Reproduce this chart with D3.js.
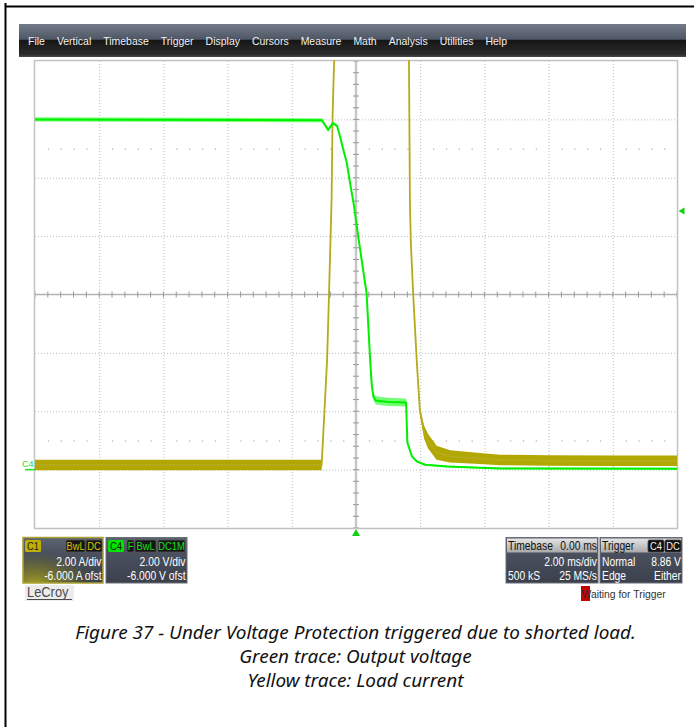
<!DOCTYPE html>
<html>
<head>
<meta charset="utf-8">
<script src="https://cdn.jsdelivr.net/npm/d3@7"></script>
<style>
  body { margin: 0; background: #fff; }
  svg { display: block; font-family: "Liberation Sans", Arial, sans-serif; }
</style>
</head>
<body>
<svg id="scope" width="694" height="727"></svg>
<script>
// Horizontal: 2.00 ms/div, trigger at 0 ms. Vertical: both channels 2 units/div, -6 ofst.
const timeGrid = [-10, -8, -6, -4, -2, 0, 2, 4, 6, 8, 10];
const levelGrid = [-2, 0, 2, 4, 6, 8, 10, 12, 14];

// C4 output voltage (V)
const voltTime  = [-10, -1.06, -0.87, -0.72, -0.59, -0.50, -0.40, -0.29, -0.19, -0.06, 0.06, 0.33, 0.44, 0.49, 0.54, 0.62, 1.00, 1.56, 1.60, 1.74, 1.89, 2.15, 2.83, 3.86, 4.50, 10];
const voltValue = [12.0, 11.97, 11.64, 11.87, 11.78, 11.43, 10.98, 10.53, 9.85, 9.03, 8.06, 6.04, 3.77, 2.92, 2.50, 2.37, 2.32, 2.30, 0.93, 0.46, 0.28, 0.17, 0.11, 0.06, 0.04, 0.03];
const voltNoise = [0.07, 0.07, 0.05, 0.05, 0.05, 0.04, 0.04, 0.04, 0.04, 0.04, 0.04, 0.04, 0.04, 0.06, 0.12, 0.14, 0.14, 0.14, 0.04, 0.03, 0.03, 0.03, 0.03, 0.03, 0.03, 0.03];

// C1 load current (A)
const currTime  = [-10, -1.07, -0.90, -0.84, -0.76, -0.73, -0.69, -0.60, 1.60, 1.65, 1.68, 1.71, 1.78, 1.89, 1.99, 2.12, 2.24, 2.51, 2.93, 3.86, 4.49, 6.0, 8.0, 10];
const currValue = [0.16, 0.16, 3.77, 6.04, 9.26, 12.1, 13.7, 16.0, 16.0, 14.0, 9.16, 7.72, 6.04, 3.77, 2.02, 1.29, 0.98, 0.58, 0.45, 0.38, 0.33, 0.31, 0.30, 0.30];
const currNoise = [0.18, 0.18, 0.05, 0.04, 0.04, 0.04, 0.04, 0.04, 0.04, 0.04, 0.04, 0.04, 0.05, 0.07, 0.12, 0.22, 0.25, 0.24, 0.21, 0.19, 0.18, 0.18, 0.18, 0.18];

const triggerLevel = 8.86;
const menuItems = ["File", "Vertical", "Timebase", "Trigger", "Display", "Cursors", "Measure", "Math", "Analysis", "Utilities", "Help"];
const captionLines = [
  "Figure 37 - Under Voltage Protection triggered due to shorted load.",
  "Green trace: Output voltage",
  "Yellow trace: Load current"
];

const svg = d3.select("#scope");
const defs = svg.append("defs");

// page border
svg.append("line").attr("x1", 5).attr("x2", 694).attr("y1", 6.5).attr("y2", 6.5)
  .attr("stroke", "#000").attr("stroke-width", 2);
svg.append("line").attr("x1", 5.5).attr("x2", 5.5).attr("y1", 3).attr("y2", 727)
  .attr("stroke", "#000").attr("stroke-width", 2);

// menu bar
const mg = defs.append("linearGradient").attr("id", "menuGrad").attr("x1", 0).attr("x2", 0).attr("y1", 0).attr("y2", 1);
[["0%", "#737a88"], ["46%", "#4f5665"], ["50%", "#161616"], ["92%", "#2c2c2c"], ["100%", "#4a4a4a"]]
  .forEach(([o, c]) => mg.append("stop").attr("offset", o).attr("stop-color", c));
svg.append("rect").attr("x", 19).attr("y", 24).attr("width", 667).attr("height", 33).attr("fill", "url(#menuGrad)");

let mx = 28;
menuItems.forEach(label => {
  const t = svg.append("text").attr("x", 0).attr("y", 0)
    .attr("transform", `translate(${mx},45) scale(0.92,1)`)
    .attr("font-size", 11.4).attr("fill", "#f2f2f2").text(label);
  mx += t.node().getComputedTextLength() * 0.92 + 12;
});

// scales
const x = d3.scaleLinear().domain([-10, 10]).range([35, 677]);
const y = d3.scaleLinear().domain([-2, 14]).range([528, 61]);

const plot = svg.append("g");
plot.append("rect").attr("x", x(-10)).attr("y", y(14)).attr("width", x(10) - x(-10)).attr("height", y(-2) - y(14))
  .attr("fill", "#fff");

// dotted grid
plot.selectAll("line.vg").data(timeGrid.filter(d => d > -10 && d < 10 && d !== 0)).join("line")
  .attr("x1", d => x(d) + 0.5).attr("x2", d => x(d) + 0.5).attr("y1", y(14)).attr("y2", y(-2))
  .attr("stroke", "#bdbdbd").attr("stroke-dasharray", "1,2");
plot.selectAll("line.hg").data(levelGrid.filter(d => d > -2 && d < 14 && d !== 6)).join("line")
  .attr("y1", d => y(d) + 0.5).attr("y2", d => y(d) + 0.5).attr("x1", x(-10)).attr("x2", x(10))
  .attr("stroke", "#bdbdbd").attr("stroke-dasharray", "1,2");

// minor dot rows at +/- 2.5 div
const minorT = d3.range(-10, 10.001, 0.4).filter(t => Math.abs(t / 2 - Math.round(t / 2)) > 0.01);
[1, 11].forEach(lv => {
  plot.selectAll(null).data(minorT).join("rect")
    .attr("x", d => x(d)).attr("y", y(lv)).attr("width", 1.2).attr("height", 1.2).attr("fill", "#a8a8a8");
});

// center axes with ticks
plot.append("line").attr("x1", x(-10)).attr("x2", x(10)).attr("y1", y(6)).attr("y2", y(6))
  .attr("stroke", "#b4b4b4").attr("stroke-width", 1.5);
plot.append("line").attr("x1", x(0)).attr("x2", x(0)).attr("y1", y(14)).attr("y2", y(-2))
  .attr("stroke", "#c8c8c8").attr("stroke-width", 2.5);
plot.selectAll(null).data(d3.range(-10, 10.001, 0.4)).join("line")
  .attr("x1", d => x(d)).attr("x2", d => x(d)).attr("y1", y(6) - 3).attr("y2", y(6) + 3)
  .attr("stroke", "#9a9a9a").attr("stroke-width", 1);
plot.selectAll(null).data(d3.range(-2, 14.001, 0.4)).join("line")
  .attr("x1", x(0) - 3).attr("x2", x(0) + 3).attr("y1", d => y(d)).attr("y2", d => y(d))
  .attr("stroke", "#9a9a9a").attr("stroke-width", 1);

// frame
plot.append("rect").attr("x", x(-10) - 0.5).attr("y", y(14) - 0.5).attr("width", x(10) - x(-10) + 1).attr("height", y(-2) - y(14) + 1)
  .attr("fill", "none").attr("stroke", "#c2c2c2").attr("stroke-width", 1.5);

// traces
defs.append("clipPath").attr("id", "clip").append("rect")
  .attr("x", x(-10)).attr("y", y(14) - 1).attr("width", x(10) - x(-10)).attr("height", y(-2) - y(14) + 1);
const traces = svg.append("g").attr("clip-path", "url(#clip)");

const curr = currTime.map((t, i) => ({ t, v: currValue[i], n: currNoise[i] }));
const volt = voltTime.map((t, i) => ({ t, v: voltValue[i], n: voltNoise[i] }));

const band = d3.area().x(d => x(d.t)).y0(d => y(d.v - d.n)).y1(d => y(d.v + d.n));
const line = d3.line().x(d => x(d.t)).y(d => y(d.v));

traces.append("path").attr("d", band(curr)).attr("fill", "#b2a600");
traces.append("path").attr("d", line(curr)).attr("fill", "none").attr("stroke", "#b6ab18").attr("stroke-width", 1.8);

traces.append("path").attr("d", band(volt)).attr("fill", "#46ff46").attr("opacity", 0.75);
traces.append("path").attr("d", line(volt)).attr("fill", "none").attr("stroke", "#00f000").attr("stroke-width", 2);

// trigger markers
svg.append("path")
  .attr("d", `M${x(0)},${y(-2) + 1}l-4,7h8z`).attr("fill", "#12d012");
svg.append("path")
  .attr("d", `M${x(10) + 1.5},${y(triggerLevel)}l6,-3.5v7z`).attr("fill", "#12d012");

// C4 ground marker
svg.append("text").attr("x", 22).attr("y", y(0) - 3).attr("font-size", 9).attr("fill", "#22e022").text("C4");
svg.append("line").attr("x1", 25).attr("x2", x(-10)).attr("y1", y(0)).attr("y2", y(0))
  .attr("stroke", "#22e022").attr("stroke-width", 1.5);

// info boxes
const bg = defs.append("linearGradient").attr("id", "boxGrad").attr("x1", 0).attr("x2", 0).attr("y1", 0).attr("y2", 1);
[["0%", "#5d6472"], ["35%", "#4a505e"], ["100%", "#3b404c"]].forEach(([o, c]) => bg.append("stop").attr("offset", o).attr("stop-color", c));
const glow = defs.append("radialGradient").attr("id", "yGlow").attr("cx", 0.15).attr("cy", 1.05).attr("r", 0.75);
[["0%", "#b0a820", 0.95], ["60%", "#8a8420", 0.45], ["100%", "#6b6820", 0]]
  .forEach(([o, c, a]) => glow.append("stop").attr("offset", o).attr("stop-color", c).attr("stop-opacity", a));
const hg = defs.append("linearGradient").attr("id", "headGrad").attr("x1", 0).attr("x2", 0).attr("y1", 0).attr("y2", 1);
[["0%", "#e4e4e4"], ["100%", "#a9a9a9"]].forEach(([o, c]) => hg.append("stop").attr("offset", o).attr("stop-color", c));

function label(g, tx, ty, str, opts = {}) {
  return g.append("text").attr("x", 0).attr("y", 0)
    .attr("transform", `translate(${tx},${ty}) scale(${opts.sx || 0.86},1)`)
    .attr("text-anchor", opts.anchor || "start")
    .attr("font-size", opts.size || 12).attr("fill", opts.fill || "#fff").text(str);
}
function badge(g, bx, by, w, str, fill, textFill, stroke) {
  g.append("rect").attr("x", bx).attr("y", by).attr("width", w).attr("height", 12).attr("rx", 1.5)
    .attr("fill", fill).attr("stroke", stroke || "none").attr("stroke-width", 0.8);
  label(g, bx + w / 2, by + 10.2, str, { anchor: "middle", size: 11, fill: textFill, sx: 0.85 });
}

const boxes = svg.append("g");
// C1
boxes.append("rect").attr("x", 23).attr("y", 537.5).attr("width", 80).attr("height", 45.5).attr("fill", "url(#boxGrad)");
boxes.append("rect").attr("x", 23).attr("y", 537.5).attr("width", 80).attr("height", 45.5).attr("fill", "url(#yGlow)")
  .attr("stroke", "#aaa232").attr("stroke-width", 1.5);
badge(boxes, 25, 540, 16, "C1", "#bfb000", "#222");
badge(boxes, 66, 540, 19, "BwL", "#151515", "#d6c600", "#555");
badge(boxes, 86, 540, 16, "DC", "#151515", "#d6c600", "#555");
label(boxes, 101.5, 566, "2.00 A/div", { anchor: "end" });
label(boxes, 101.5, 580, "-6.000 A ofst", { anchor: "end" });

// C4
boxes.append("rect").attr("x", 106).attr("y", 537.5).attr("width", 81).attr("height", 45.5).attr("fill", "url(#boxGrad)")
  .attr("stroke", "#6a6e78").attr("stroke-width", 1);
badge(boxes, 108, 540, 16, "C4", "#00e400", "#111");
badge(boxes, 127, 540, 7, "F", "#151515", "#19e019", "#555");
badge(boxes, 135, 540, 21, "BwL", "#151515", "#19e019", "#555");
badge(boxes, 158, 540, 27, "DC1M", "#151515", "#19e019", "#555");
label(boxes, 185.5, 566, "2.00 V/div", { anchor: "end" });
label(boxes, 185.5, 580, "-6.000 V ofst", { anchor: "end" });

// Timebase
boxes.append("rect").attr("x", 506).attr("y", 537.5).attr("width", 92).attr("height", 45.5).attr("fill", "url(#boxGrad)")
  .attr("stroke", "#6a6e78").attr("stroke-width", 1);
boxes.append("rect").attr("x", 507).attr("y", 538.5).attr("width", 90).attr("height", 14).attr("fill", "url(#headGrad)");
label(boxes, 508, 550, "Timebase", { fill: "#111" });
label(boxes, 597, 550, "0.00 ms", { fill: "#111", anchor: "end" });
label(boxes, 597, 566, "2.00 ms/div", { anchor: "end" });
label(boxes, 508, 580, "500 kS");
label(boxes, 597, 580, "25 MS/s", { anchor: "end" });

// Trigger
boxes.append("rect").attr("x", 600).attr("y", 537.5).attr("width", 82).attr("height", 45.5).attr("fill", "url(#boxGrad)")
  .attr("stroke", "#6a6e78").attr("stroke-width", 1);
boxes.append("rect").attr("x", 601).attr("y", 538.5).attr("width", 80).attr("height", 14).attr("fill", "url(#headGrad)");
label(boxes, 602, 550, "Trigger", { fill: "#111" });
badge(boxes, 648, 540, 16, "C4", "#111", "#f0f0f0", "#444");
badge(boxes, 665, 540, 16, "DC", "#111", "#f0f0f0", "#444");
label(boxes, 602, 566, "Normal");
label(boxes, 681, 566, triggerLevel.toFixed(2) + " V", { anchor: "end" });
label(boxes, 602, 580, "Edge");
label(boxes, 681, 580, "Either", { anchor: "end" });

// LeCroy logo
boxes.append("rect").attr("x", 25).attr("y", 585).attr("width", 49).attr("height", 16).attr("fill", "#ececec");
label(boxes, 27, 597, "LeCroy", { size: 14, fill: "#4a4a4a", sx: 0.92 });
boxes.append("line").attr("x1", 27).attr("x2", 72).attr("y1", 599.5).attr("y2", 599.5).attr("stroke", "#4a4a4a").attr("stroke-width", 1);

// waiting for trigger
boxes.append("rect").attr("x", 581).attr("y", 586).attr("width", 9).attr("height", 15).attr("fill", "#c40000");
label(boxes, 581.5, 598, "Waiting for Trigger", { size: 11.5, fill: "#333", sx: 0.9 });

// caption
const cap = svg.append("g").attr("font-family", "'Noto Sans', 'Open Sans', sans-serif")
  .attr("font-style", "italic").attr("text-anchor", "middle").attr("fill", "#111");
const probe = cap.append("text").attr("font-size", 16).text(captionLines[0]);
const fs = 16 * 561 / probe.node().getComputedTextLength();
probe.remove();
cap.selectAll("text").data(captionLines).join("text")
  .attr("x", 355.5).attr("y", (d, i) => 639 + i * 24)
  .attr("font-size", fs).text(d => d);
</script>
</body>
</html>
